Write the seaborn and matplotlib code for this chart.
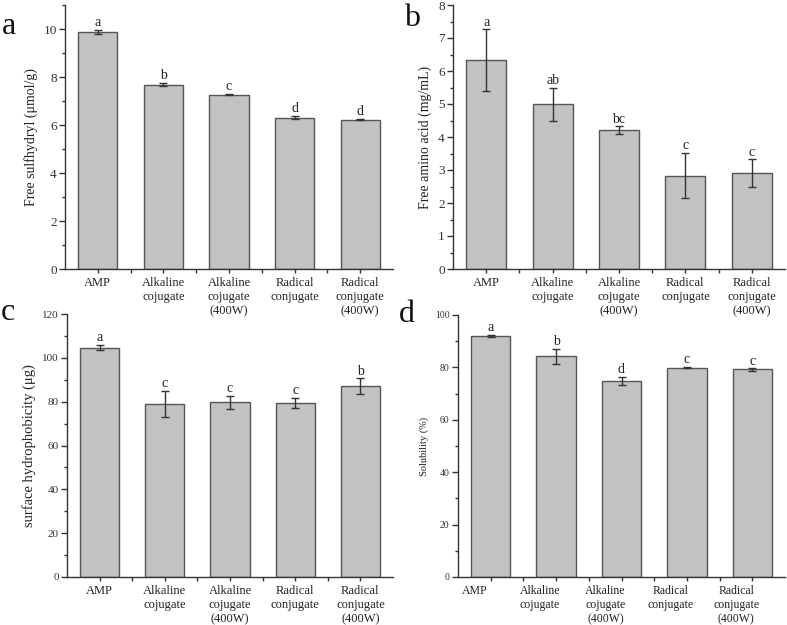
import numpy as np
import pandas as pd
import matplotlib
matplotlib.use('Agg')
import matplotlib.pyplot as plt
import matplotlib.transforms as mtransforms
from matplotlib.ticker import MultipleLocator
import seaborn as sns

# Datos (media y desviación)
categories = ['AMP', 'Alkaline\ncojugate', 'Alkaline\ncojugate\n(400W)',
              'Radical\nconjugate', 'Radical\nconjugate\n(400W)']

sulfhydryl = [9.88, 7.68, 7.27, 6.30, 6.22]
sulfhydryl_err = [0.08, 0.07, 0.04, 0.07, 0.03]
sulfhydryl_letters = ['a', 'b', 'c', 'd', 'd']

amino = [6.33, 4.99, 4.20, 2.83, 2.90]
amino_err = [0.93, 0.49, 0.12, 0.68, 0.42]
amino_letters = ['a', 'ab', 'bc', 'c', 'c']

hydro = [104.6, 79.0, 79.8, 79.4, 87.2]
hydro_err = [1.2, 6.0, 3.0, 2.4, 3.5]
hydro_letters = ['a', 'c', 'c', 'c', 'b']

solub = [92.0, 84.2, 74.8, 79.9, 79.2]
solub_err = [0.4, 3.0, 1.5, 0.3, 0.4]
solub_letters = ['a', 'b', 'd', 'c', 'c']

sns.set_style('ticks')
plt.rcParams['font.family'] = ['Liberation Serif', 'DejaVu Serif']

fig = plt.figure(figsize=(7.87, 6.25), dpi=100)
W, H = 787, 625

def axes_px(left, right, top, bottom):
    return fig.add_axes([left / W, (H - bottom) / H, (right - left) / W, (bottom - top) / H])

panels = [
    dict(box=(65, 393, 5, 269), vals=sulfhydryl, err=sulfhydryl_err, let=sulfhydryl_letters,
         ylim=11, major=2, minor=1, ylabel='Free sulfhydryl (μmol/g)', ylfs=10, tfs=9.5, xfs=9,
         tag='a', tagpos=(2, 34), shift=0),
    dict(box=(453, 785, 5, 269), vals=amino, err=amino_err, let=amino_letters,
         ylim=8, major=1, minor=0.5, ylabel='Free amino acid (mg/mL)', ylfs=10, tfs=9.5, xfs=9,
         tag='b', tagpos=(404, 26), shift=0),
    dict(box=(67, 393, 314, 577), vals=hydro, err=hydro_err, let=hydro_letters,
         ylim=120, major=20, minor=10, ylabel='surface hydrophobicity (μg)', ylfs=10.5, tfs=8, xfs=9,
         tag='c', tagpos=(1, 320), shift=0),
    dict(box=(458, 785, 315, 577), vals=solub, err=solub_err, let=solub_letters,
         ylim=100, major=20, minor=10, ylabel='Solubility (%)', ylfs=7.5, tfs=7, xfs=8.5,
         tag='d', tagpos=(399, 322), shift=-16),
]

for p in panels:
    ax = axes_px(*p['box'])
    ax.set_facecolor('none')  # para no tapar las etiquetas del panel de arriba
    df = pd.DataFrame({'cat': categories, 'val': p['vals']})
    sns.barplot(data=df, x='cat', y='val', color='#c2c2c2', saturation=1, width=0.6,
                edgecolor='#555555', linewidth=1, errorbar=None, ax=ax)
    ax.errorbar(np.arange(len(categories)), p['vals'], yerr=p['err'], fmt='none',
                ecolor='#333333', elinewidth=1, capsize=3, capthick=1)
    for i, (v, e, l) in enumerate(zip(p['vals'], p['err'], p['let'])):
        ax.annotate(l, (i, v + e), xytext=(0, 0.5), textcoords='offset points',
                    ha='center', va='bottom', fontsize=10, color='#222222')

    ax.set_xlim(-0.5, 4.5)
    ax.set_ylim(0, p['ylim'])
    ax.yaxis.set_major_locator(MultipleLocator(p['major']))
    ax.yaxis.set_minor_locator(MultipleLocator(p['minor']))
    ax.set_xticks(range(len(categories)))
    ax.set_xticks(np.arange(0.5, 4.5, 1), minor=True)
    ax.set_xticklabels(categories, fontsize=p['xfs'], color='#222222', linespacing=1.2)
    ax.tick_params(axis='y', labelsize=p['tfs'], labelcolor='#333333')
    ax.tick_params(which='major', length=4, width=1, color='#333333', pad=2)
    ax.tick_params(which='minor', length=2.5, width=1, color='#333333')
    ax.tick_params(axis='x', which='both', length=3, pad=3)
    if p['shift']:
        off = mtransforms.ScaledTranslation(p['shift'] / 100, 0, fig.dpi_scale_trans)
        for lab in ax.get_xticklabels():
            lab.set_transform(lab.get_transform() + off)

    ax.set_xlabel('')
    ax.set_ylabel(p['ylabel'], fontsize=p['ylfs'], color='#222222', labelpad=4)
    sns.despine(ax=ax)
    for s in ['left', 'bottom']:
        ax.spines[s].set_linewidth(1)
        ax.spines[s].set_color('#333333')

    fig.text(p['tagpos'][0] / W, 1 - p['tagpos'][1] / H, p['tag'], fontsize=23,
             color='#111111', ha='left', va='baseline')

fig.savefig('out.png', dpi=100)
